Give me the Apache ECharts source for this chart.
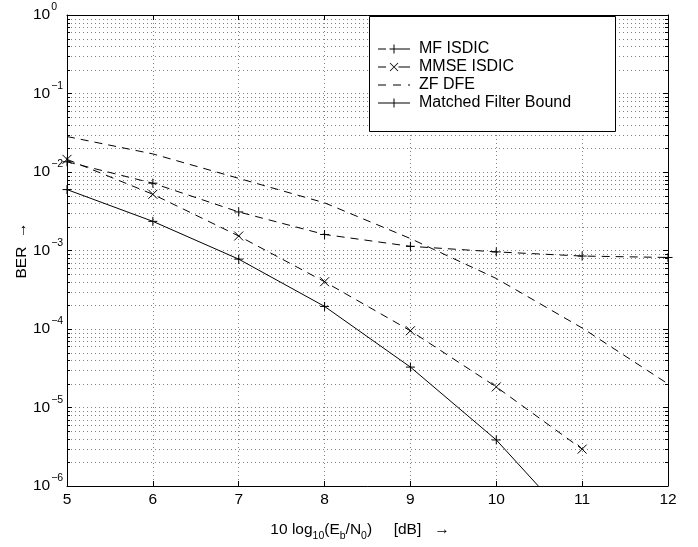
<!DOCTYPE html>
<html><head><meta charset="utf-8">
<script src="https://cdn.jsdelivr.net/npm/echarts@6/dist/echarts.min.js"></script>
<style>html,body{margin:0;padding:0;background:#fff}#c{width:698px;height:547px}</style>
</head><body><div id="c"></div>
<script>
// ---- data ----
const xValues = [5, 6, 7, 8, 9, 10, 11, 12];
const mfIsdic   = [1.35e-2, 7.2e-3, 3.1e-3, 1.6e-3, 1.13e-3, 9.6e-4, 8.5e-4, 8.15e-4];
const mmseIsdic = [1.45e-2, 5.2e-3, 1.53e-3, 4.0e-4, 9.5e-5, 1.83e-5, 2.95e-6];
const zfDfe     = [2.83e-2, 1.7e-2, 8.3e-3, 4.05e-3, 1.42e-3, 4.4e-4, 1.03e-4, 2.0e-5];
const mfBound   = [5.97e-3, 2.35e-3, 7.76e-4, 1.94e-4, 3.27e-5, 3.86e-6, 2.45e-7];
const seriesNames = ['MF ISDIC', 'MMSE ISDIC', 'ZF DFE', 'Matched Filter Bound'];
const yDecades = [-6, -5, -4, -3, -2, -1];
const minorMultipliers = [2, 3, 4, 5, 6, 7, 8, 9];
const xLabelText = '{t|10 log}{sub|10}{t|(E}{sub|b}{t|/N}{sub|0}{t|)     [dB]   →}';
const yLabelText = 'BER  →';

// ---- build ----
const FONT = '"Liberation Sans", Arial, Helvetica, sans-serif';
const pair = arr => arr.map((v, i) => [xValues[i], v]);
const minorVals = [];
yDecades.forEach(d => minorMultipliers.forEach(m => minorVals.push([xValues[0], m * Math.pow(10, d)])));
const PLUS = 'path://M0,5L10,5M5,0L5,10';
const CROSS = 'path://M0,0L10,10M10,0L0,10';
const DASH = [8, 6];
const blk = '#000';
const gridLine = {show: true, lineStyle: {color: '#808080', width: 1, type: [1, 3]}};
const axisLine = {show: true, onZero: false, lineStyle: {color: blk, width: 1}};
const axisTick = {show: true, inside: true, length: 5, lineStyle: {color: blk, width: 1}};

// legend icons (box 32 wide, line at y=7, bbox height 9)
const ICON_PLUS = 'M11.5,6.5h9v1h-9zM15.5,2.5h1v9h-1z';
const ICON_CROSS = 'M11.7,3.3L12.3,2.7L20.3,10.7L19.7,11.3ZM12.3,11.3L11.7,10.7L19.7,2.7L20.3,3.3Z';
const legendIcons = [
  'path://M0,6.5h8v1h-8zM20.5,6.5h11.5v1h-11.5z' + ICON_PLUS,
  'path://M0,6.5h8v1h-8zM20.5,6.5h11.5v1h-11.5z' + ICON_CROSS,
  'path://M0,6.5h8v1h-8zM15,6.5h8v1h-8zM30,6.5h2v1h-2zM0,2.5h0.01v9h-0.01z',
  'path://M0,6.5h32v1h-32z' + ICON_PLUS
];

function lineSeries(name, data, symbol, dashed) {
  return {
    name, type: 'line', data: pair(data), symbol: symbol || 'none', symbolSize: 9,
    showSymbol: !!symbol, showAllSymbol: true, animation: false, z: 3,
    lineStyle: {color: blk, width: 1, type: dashed ? DASH : 'solid'},
    itemStyle: {color: blk, borderColor: blk, borderWidth: 1}
  };
}

const chart = echarts.init(document.getElementById('c'), null, {renderer: 'canvas'});
chart.setOption({
  animation: false,
  backgroundColor: '#fff',
  textStyle: {fontFamily: FONT},
  grid: {left: 67, top: 15, width: 601, height: 474},
  xAxis: [{
    type: 'value', min: 5, max: 12, interval: 1, position: 'bottom',
    axisLine, axisTick, splitLine: gridLine,
    axisLabel: {color: blk, fontSize: 15.5, fontFamily: FONT, margin: 6},
    name: xLabelText, nameLocation: 'middle', nameGap: 38, nameMoveOverlap: false,
    nameTextStyle: {color: blk, fontFamily: FONT, padding: [0, 15, 0, 0], rich: {
      t: {fontSize: 15.5, fontFamily: FONT, color: blk, lineHeight: 16, padding: [0, 0, 4, 0]},
      sub: {fontSize: 10.5, fontFamily: FONT, color: blk, lineHeight: 11, padding: [9, 0, 0, 0]}
    }}
  }, {
    type: 'value', min: 5, max: 12, interval: 1, position: 'top',
    axisLine, axisTick, splitLine: {show: false}, axisLabel: {show: false}
  }],
  yAxis: [{
    type: 'log', logBase: 10, min: 1e-6, max: 1, position: 'left',
    axisLine, axisTick, splitLine: gridLine, minorTick: {show: false},
    axisLabel: {
      color: blk, fontFamily: FONT, align: 'left', margin: 34,
      formatter: v => '{b|10}{s|' + String(Math.round(Math.log10(v))).replace('-', '\u2212') + '}',
      rich: {
        b: {fontSize: 15.5, fontFamily: FONT, color: blk, lineHeight: 16, padding: [5, 0, 5, 0]},
        s: {fontSize: 10.5, fontFamily: FONT, color: blk, lineHeight: 11, padding: [0, 0, 15, 1]}
      }
    },
    name: yLabelText, nameLocation: 'middle', nameGap: 37, nameMoveOverlap: false,
    nameTextStyle: {color: blk, fontSize: 15.5, fontFamily: FONT}
  }, {
    type: 'log', logBase: 10, min: 1e-6, max: 1, position: 'right',
    axisLine, axisTick, splitLine: {show: false}, axisLabel: {show: false}
  }],
  legend: {
    orient: 'vertical', left: 378, top: 40, padding: 0, itemWidth: 32, itemHeight: 14, itemGap: 0,
    data: seriesNames.map((n, i) => ({name: n, icon: legendIcons[i]})),
    selectedMode: false, z: 6, symbolKeepAspect: true,
    itemStyle: {color: blk, borderWidth: 0},
    textStyle: {fontSize: 16, fontFamily: FONT, color: blk, lineHeight: 18, padding: [0, 0, 0, 4]}
  },
  graphic: [{
    type: 'rect', z: 5, silent: true,
    shape: {x: 369.5, y: 16.5, width: 246, height: 115},
    style: {fill: '#fff', stroke: blk, lineWidth: 1}
  }],
  series: [
    {
      type: 'custom', name: 'minorGrid', data: minorVals, z: 1, silent: true, clip: false,
      encode: {x: 0, y: 1},
      renderItem: function (params, api) {
        const v = api.value(1);
        const p0 = api.coord([5, v]);
        const p1 = api.coord([12, v]);
        const y = Math.round(p0[1]) + 0.5;
        return {type: 'group', children: [
          {type: 'line', shape: {x1: p0[0], y1: y, x2: p1[0], y2: y}, style: {stroke: '#808080', lineWidth: 1, lineDash: [1, 3]}},
          {type: 'line', shape: {x1: p0[0], y1: y, x2: p0[0] + 3, y2: y}, style: {stroke: blk, lineWidth: 1}},
          {type: 'line', shape: {x1: p1[0] - 3, y1: y, x2: p1[0], y2: y}, style: {stroke: blk, lineWidth: 1}}
        ]};
      }
    },
    lineSeries(seriesNames[0], mfIsdic, PLUS, true),
    lineSeries(seriesNames[1], mmseIsdic, CROSS, true),
    lineSeries(seriesNames[2], zfDfe, null, true),
    lineSeries(seriesNames[3], mfBound, PLUS, false)
  ]
});
</script></body></html>
